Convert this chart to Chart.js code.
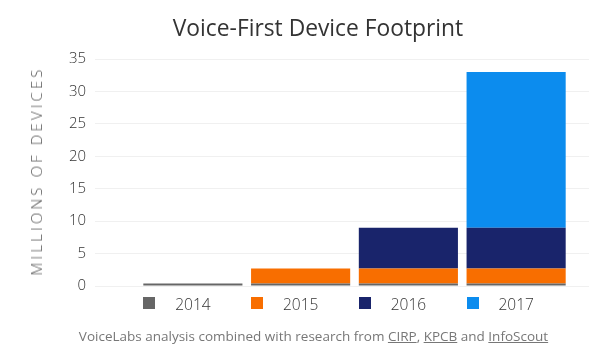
<!DOCTYPE html>
<html>
<head>
<meta charset="utf-8">
<script src="https://cdn.jsdelivr.net/npm/chart.js@4/dist/chart.umd.min.js"></script>
<style>
  html, body { margin: 0; padding: 0; background: #fff; }
  #wrap { position: relative; width: 589px; height: 361px; overflow: hidden; }
  #c { position: absolute; left: 0; top: 0; }
  #title { position: absolute; left: 0; width: 636px; top: 12px; text-align: center;
           font-family: "Open Sans", sans-serif; font-size: 22.8px; color: #333; white-space: nowrap; }
  #ytitle { position: absolute; left: 36px; top: 171px; transform: translate(-50%, -50%) rotate(-90deg);
            font-family: "Open Sans", sans-serif; font-weight: 300; font-size: 15px; letter-spacing: 3.1px;
            color: #555; white-space: nowrap; }
  #footer { position: absolute; left: 0; width: 627px; top: 327px; text-align: center;
            font-family: "Open Sans", sans-serif; font-size: 13.5px; color: #777; white-space: nowrap; }
  #footer a { color: #777; text-decoration: underline; }
</style>
</head>
<body>
<div id="wrap">
  <canvas id="c" width="589" height="361"></canvas>
  <div id="title">Voice-First Device Footprint</div>
  <div id="ytitle">MILLIONS OF DEVICES</div>
  <div id="footer">VoiceLabs analysis combined with research from <a>CIRP</a>, <a>KPCB</a> and <a>InfoScout</a></div>
</div>
<script>
const categories = ['2014', '2015', '2016', '2017'];
const devices2014 = [0.4, 0.4, 0.4, 0.4];
const devices2015 = [null, 2.3, 2.3, 2.3];
const devices2016 = [null, null, 6.3, 6.3];
const devices2017 = [null, null, null, 24.0];
const seriesLabels = ['2014', '2015', '2016', '2017'];
const seriesColors = ['#666666', '#f86e00', '#19246b', '#0c8cee'];
const yTicks = [0, 5, 10, 15, 20, 25, 30, 35];

const seriesData = [devices2014, devices2015, devices2016, devices2017];

const legendSquares = {
  id: 'legendSquares',
  afterDraw(chart) {
    const ctx = chart.ctx;
    const xs = chart.scales.x;
    chart.data.datasets.forEach((ds, i) => {
      const meta = chart.getDatasetMeta(i);
      const bar = meta.data[i];
      if (!bar) return;
      const left = bar.x - bar.width / 2;
      ctx.save();
      ctx.fillStyle = ds.backgroundColor;
      ctx.fillRect(Math.round(left), Math.round(xs.top + 11), 12, 12);
      ctx.restore();
    });
  }
};

new Chart(document.getElementById('c'), {
  type: 'bar',
  data: {
    labels: categories,
    datasets: seriesData.map((d, i) => ({
      label: seriesLabels[i],
      data: d,
      backgroundColor: seriesColors[i],
      borderWidth: 0,
      barPercentage: 0.92,
      categoryPercentage: 1.0
    }))
  },
  options: {
    responsive: false,
    animation: false,
    layout: { padding: { top: 59, right: 0, left: 0, bottom: 45 } },
    plugins: { legend: { display: false }, tooltip: { enabled: false } },
    scales: {
      x: {
        stacked: true,
        grid: { display: false },
        border: { display: false },
        ticks: { color: '#333', padding: 2, font: { family: 'Open Sans', size: 15.5, weight: 300 } },
        afterFit(s) { s.height = 30; }
      },
      y: {
        stacked: true,
        min: 0, max: 35,
        afterBuildTicks(s) { s.ticks = yTicks.map(v => ({ value: v })); },
        grid: { color: '#f0f0f0', lineWidth: 1, tickLength: 44, tickColor: '#f0f0f0' },
        border: { display: false },
        ticks: { color: '#333', padding: 9, font: { family: 'Open Sans', size: 15, weight: 300 } },
        afterFit(s) { s.width = 139; }
      },
      yR: {
        position: 'right',
        min: 0, max: 35,
        afterBuildTicks(s) { s.ticks = yTicks.map(v => ({ value: v })); },
        grid: { drawOnChartArea: false, tickLength: 19, tickColor: '#f0f0f0' },
        border: { display: false },
        ticks: { display: false },
        afterFit(s) { s.width = 19; }
      }
    }
  },
  plugins: [legendSquares]
});
</script>
</body>
</html>
